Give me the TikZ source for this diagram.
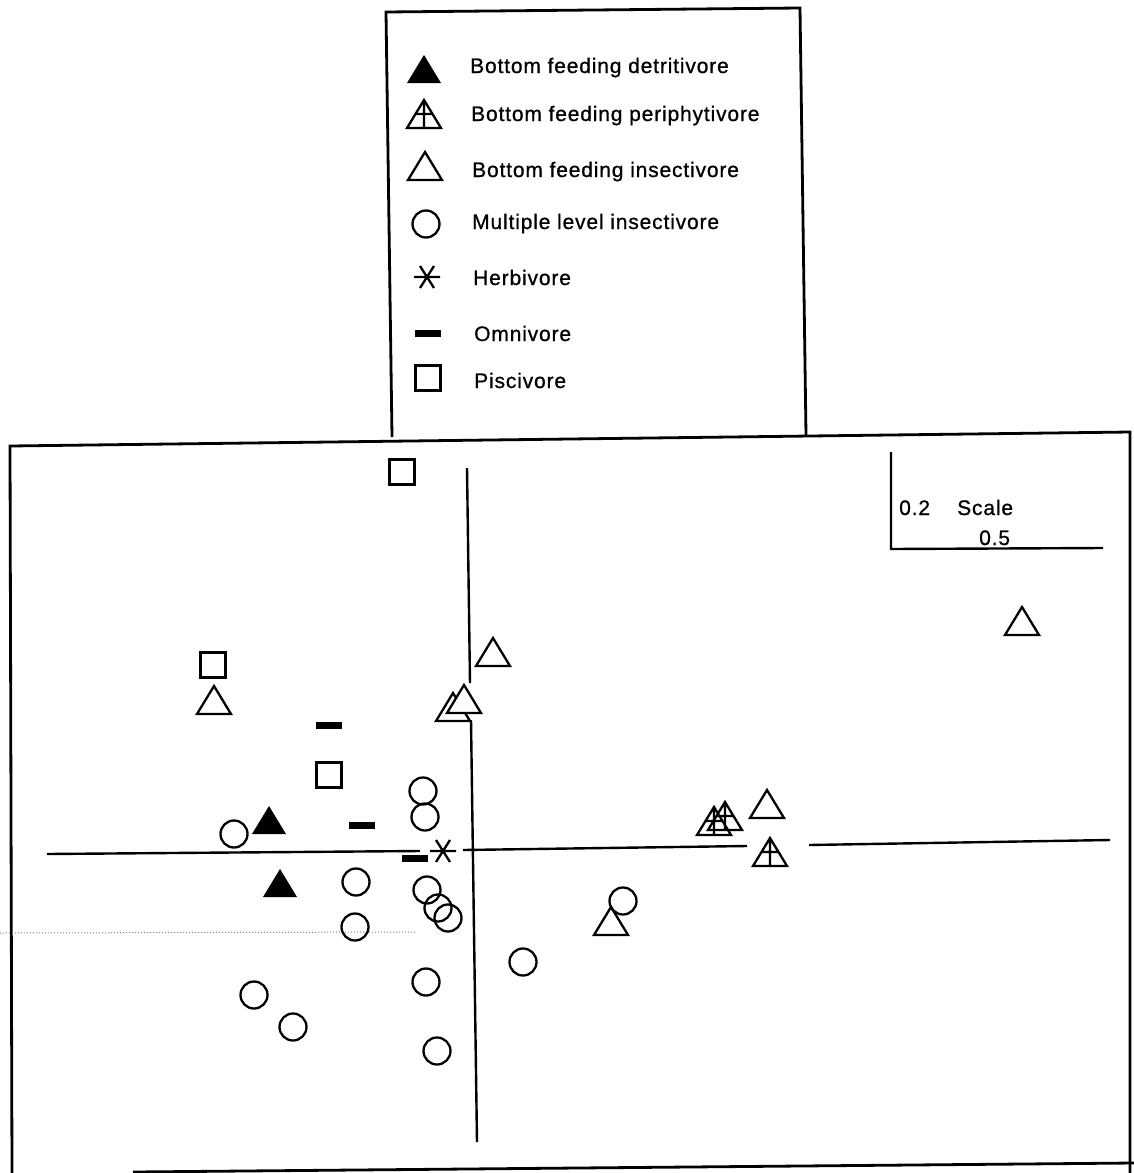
\documentclass[tikz,border=0pt]{standalone}
\usepackage{fontspec}
\setmainfont{Liberation Sans}
\begin{document}
\begin{tikzpicture}[x=1pt,y=-1pt,
  mk/.style={line width=2.3pt,line join=miter},
  axis/.style={line width=2.4pt},
  frame/.style={line width=2.8pt},
  lbl/.style={anchor=base west,inner sep=0pt,font=\fontsize{21}{24}\selectfont\addfontfeature{LetterSpace=4,FakeBold=0.8}},
  otri/.pic={\draw[mk,fill=white] (-17,14)--(0,-14)--(17,14)--cycle;},
  ftri/.pic={\fill (-17,14)--(0,-14)--(17,14)--cycle;},
  ptri/.pic={\draw[mk] (-17,14)--(0,-14)--(17,14)--cycle (0,-14)--(0,14) (-8.5,0)--(8.5,0);},
  circ/.pic={\draw[mk] (0,0) circle[radius=13.5];},
  sq/.pic={\draw[mk] (-12.5,-12.5) rectangle (12.5,12.5);},
  omni/.pic={\fill (-13,-3.5) rectangle (13,3.5);},
  herb/.pic={\draw[mk] (-13,0)--(13,0) (-7,-11)--(7,11) (7,-11)--(-7,11);}
]
\useasboundingbox (0,0) rectangle (1134,1173);

% legend box
\coordinate (L1) at (386,12);
\coordinate (L2) at (800,8);
\coordinate (L3) at (806,435);
\coordinate (L4) at (392,437);
\draw[frame] (L4)--(L1)--(L2)--(L3);

% main frame
\coordinate (F1) at (10,446);
\coordinate (F2) at (1130,432);
\coordinate (F3) at (1130,1173);
\coordinate (F4) at (12,1173);
\coordinate (F5) at (133,1172);
\coordinate (F6) at (1134,1163);
\draw[frame] (F4)--(F1)--(F2)--(F3);
\draw[frame] (F5)--(F6);

% dotted scan line
\coordinate (D1) at (0,933);
\coordinate (D2) at (415,932);
\draw[gray,line width=1pt,dotted] (D1)--(D2);

% axes
\coordinate (h1) at (47,854); \coordinate (h2) at (420,851);
\coordinate (h3) at (463,850); \coordinate (h4) at (747,846);
\coordinate (h5) at (809,845); \coordinate (h6) at (1110,840);
\coordinate (v1) at (467,468); \coordinate (v2) at (470,683);
\coordinate (v3) at (471,720); \coordinate (v4) at (477,1142);
\draw[axis] (h1)--(h2) (h3)--(h4) (h5)--(h6) (v1)--(v2) (v3)--(v4);

% scale
\coordinate (s1) at (891,452); \coordinate (s2) at (891,549); \coordinate (s3) at (1103,548);
\draw[axis] (s1)--(s2)--(s3);
\node[lbl] (s02) at (899,515) {0.2};
\node[lbl] (sscale) at (957,515) {Scale};
\node[lbl] (s05) at (979,545) {0.5};

% legend entries
\pic at (424,69) {ftri};
\node[lbl] (t1) at (470,73) {Bottom feeding detritivore};
\pic at (424,114) {ptri};
\node[lbl] (t2) at (471,121) {Bottom feeding periphytivore};
\pic at (425,166) {otri};
\node[lbl] (t3) at (472,177) {Bottom feeding insectivore};
\pic at (426,224) {circ};
\node[lbl] (t4) at (472,229) {Multiple level insectivore};
\pic at (427,277) {herb};
\node[lbl] (t5) at (473,285) {Herbivore};
\pic at (428,333) {omni};
\node[lbl] (t6) at (474,341) {Omnivore};
\pic at (428,378) {sq};
\node[lbl] (t7) at (474,388) {Piscivore};

% data: squares
\pic at (402,472) {sq};
\pic at (213,665) {sq};
\pic at (329,775) {sq};

% open triangles
\pic at (214,700) {otri};
\pic at (493,652) {otri};
\pic at (453,707) {otri};
\pic at (464,699) {otri};
\pic at (1022,621) {otri};
\pic at (767,804) {otri};
\pic at (611,921) {otri};

% periphytivores
\pic at (714,821) {ptri};
\pic at (725,816) {ptri};
\pic at (770,852) {ptri};

% filled triangles
\pic at (269,820) {ftri};
\pic at (280,883) {ftri};

% circles
\foreach \p in {(234,834),(423,791),(425,817),(356,882),(427,890),(438,908),(448,918),
  (355,927),(523,962),(426,982),(254,995),(293,1027),(437,1051),(623,901)}
  \pic at \p {circ};

% omnivores
\pic at (329,725) {omni};
\pic at (362,825) {omni};
\pic at (415,858) {omni};

% herbivore
\pic at (443,851) {herb};
\end{tikzpicture}
\end{document}
